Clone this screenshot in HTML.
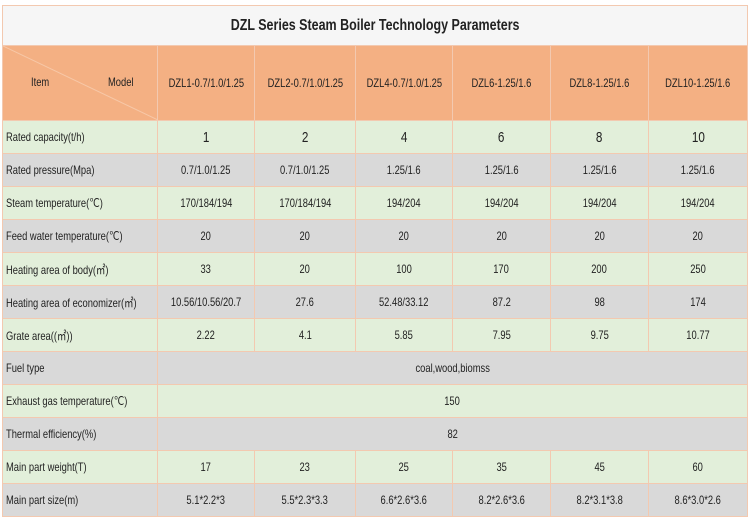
<!DOCTYPE html>
<html><head><meta charset="utf-8"><style>
body{margin:0;width:750px;height:521px;background:#fff;overflow:hidden;font-family:"Liberation Sans",sans-serif;}
table{position:absolute;left:2px;top:5px;border-collapse:collapse;table-layout:fixed;width:745px;}
td{border:1px solid #f3c9b0;font-size:12px;color:#222;text-align:center;padding:0;overflow:hidden;white-space:nowrap;}
td>span.s{display:inline-block;transform:scaleX(0.78);transform-origin:center;}
td.l{text-align:left;padding-left:3px;}
td.l>span.s{transform-origin:left;}
.t td{height:39px;background:#f6f6f6;font-size:16px;font-weight:bold;}
.h td{height:74px;background:#f4b083;}
.g td{background:#e2efda;height:32px;}
.y td{background:#d9d9d9;height:32px;}
.big{font-size:15px;}
</style></head><body>
<table>
<colgroup><col style="width:155px"><col style="width:97px"><col style="width:101px"><col style="width:97px"><col style="width:98px"><col style="width:98px"><col style="width:99px"></colgroup>
<tr class="t"><td colspan="7"><span class="s">DZL Series Steam Boiler Technology Parameters</span></td></tr>
<tr class="h"><td style="position:relative">
<svg width="155" height="74" style="position:absolute;left:0;top:0"><line x1="0" y1="0" x2="155" y2="74" stroke="#f7c8a8" stroke-width="1"/></svg>
<span style="position:absolute;left:28px;top:29px;display:inline-block;transform:scaleX(0.78);transform-origin:left">Item</span><span style="position:absolute;left:105px;top:29px;display:inline-block;transform:scaleX(0.78);transform-origin:left">Model</span></td>
<td><span class="s">DZL1-0.7/1.0/1.25</span></td><td><span class="s">DZL2-0.7/1.0/1.25</span></td><td><span class="s">DZL4-0.7/1.0/1.25</span></td><td><span class="s">DZL6-1.25/1.6</span></td><td><span class="s">DZL8-1.25/1.6</span></td><td><span class="s">DZL10-1.25/1.6</span></td></tr>
<tr class="g"><td class="l"><span class="s">Rated capacity(t/h)</span></td><td class="big"><span class="s">1</span></td><td class="big"><span class="s">2</span></td><td class="big"><span class="s">4</span></td><td class="big"><span class="s">6</span></td><td class="big"><span class="s">8</span></td><td class="big"><span class="s">10</span></td></tr>
<tr class="y"><td class="l"><span class="s">Rated pressure(Mpa)</span></td><td><span class="s">0.7/1.0/1.25</span></td><td><span class="s">0.7/1.0/1.25</span></td><td><span class="s">1.25/1.6</span></td><td><span class="s">1.25/1.6</span></td><td><span class="s">1.25/1.6</span></td><td><span class="s">1.25/1.6</span></td></tr>
<tr class="g"><td class="l"><span class="s">Steam temperature(℃)</span></td><td><span class="s">170/184/194</span></td><td><span class="s">170/184/194</span></td><td><span class="s">194/204</span></td><td><span class="s">194/204</span></td><td><span class="s">194/204</span></td><td><span class="s">194/204</span></td></tr>
<tr class="y"><td class="l"><span class="s">Feed water temperature(℃)</span></td><td><span class="s">20</span></td><td><span class="s">20</span></td><td><span class="s">20</span></td><td><span class="s">20</span></td><td><span class="s">20</span></td><td><span class="s">20</span></td></tr>
<tr class="g"><td class="l"><span class="s">Heating area of body(㎡)</span></td><td><span class="s">33</span></td><td><span class="s">20</span></td><td><span class="s">100</span></td><td><span class="s">170</span></td><td><span class="s">200</span></td><td><span class="s">250</span></td></tr>
<tr class="y"><td class="l"><span class="s">Heating area of economizer(㎡)</span></td><td><span class="s">10.56/10.56/20.7</span></td><td><span class="s">27.6</span></td><td><span class="s">52.48/33.12</span></td><td><span class="s">87.2</span></td><td><span class="s">98</span></td><td><span class="s">174</span></td></tr>
<tr class="g"><td class="l"><span class="s">Grate area((㎡))</span></td><td><span class="s">2.22</span></td><td><span class="s">4.1</span></td><td><span class="s">5.85</span></td><td><span class="s">7.95</span></td><td><span class="s">9.75</span></td><td><span class="s">10.77</span></td></tr>
<tr class="y"><td class="l"><span class="s">Fuel type</span></td><td colspan="6"><span class="s">coal,wood,biomss</span></td></tr>
<tr class="g"><td class="l"><span class="s">Exhaust gas temperature(℃)</span></td><td colspan="6"><span class="s">150</span></td></tr>
<tr class="y"><td class="l"><span class="s">Thermal efficiency(%)</span></td><td colspan="6"><span class="s">82</span></td></tr>
<tr class="g"><td class="l"><span class="s">Main part weight(T)</span></td><td><span class="s">17</span></td><td><span class="s">23</span></td><td><span class="s">25</span></td><td><span class="s">35</span></td><td><span class="s">45</span></td><td><span class="s">60</span></td></tr>
<tr class="y"><td class="l"><span class="s">Main part size(m)</span></td><td><span class="s">5.1*2.2*3</span></td><td><span class="s">5.5*2.3*3.3</span></td><td><span class="s">6.6*2.6*3.6</span></td><td><span class="s">8.2*2.6*3.6</span></td><td><span class="s">8.2*3.1*3.8</span></td><td><span class="s">8.6*3.0*2.6</span></td></tr>
</table>
</body></html>
